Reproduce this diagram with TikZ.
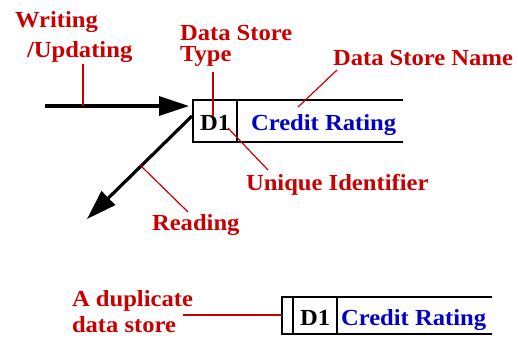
\documentclass[tikz,border=0pt]{standalone}
\usepackage{fontspec}
\newfontfamily\lblfont{Liberation Serif}[FakeStretch=1.07]
\usetikzlibrary{arrows.meta}
\definecolor{lblred}{RGB}{200,0,0}
\definecolor{nameblue}{RGB}{0,0,200}
\begin{document}
\begin{tikzpicture}[x=1pt,y=-1pt,
  every node/.style={inner sep=0pt,outer sep=0pt,font=\lblfont\fontsize{23}{26}\selectfont\bfseries},
  lbl/.style={text=lblred,anchor=base west},
  nm/.style={text=nameblue,anchor=base west},
  idtxt/.style={text=black,anchor=base west},
  storeline/.style={line width=2.6pt,black},
  lead/.style={lblred,line width=1.2pt},
  flow/.style={line width=3.2pt,black,-{Triangle[length=30pt,width=19pt]}}]
\useasboundingbox (0,0) rectangle (518,338);
% ---- top data store
\coordinate (s1nw) at (193,100);
\coordinate (s1sw) at (193,142);
\coordinate (s1dn) at (237,100);
\coordinate (s1ds) at (237,142);
\coordinate (s1ne) at (403,100);
\coordinate (s1se) at (403,142);
\draw[storeline] (s1ne) -- (s1nw) -- (s1sw) -- (s1se);
\draw[storeline] (s1dn) -- (s1ds);
\node[idtxt] (d1) at (200,130) {D1};
\node[nm] (cr1) at (251,130) {Credit Rating};
% ---- labels
\node[lbl] (wr1) at (15,27) {Writing};
\node[lbl] (wr2) at (27,57) {/Updating};
\node[lbl] (dst1) at (180,40) {Data Store};
\node[lbl] (dst2) at (180,61) {Type};
\node[lbl] (dsn) at (333,65) {Data Store Name};
\node[lbl] (uid) at (246,190) {Unique Identifier};
\node[lbl] (rd) at (152,230) {Reading};
\node[lbl] (dup1) at (72,306) {A duplicate};
\node[lbl] (dup2) at (72,332) {data store};
% ---- flows
\coordinate (w0) at (45,106);
\coordinate (w1) at (189,106);
\draw[flow] (w0) -- (w1);
\coordinate (r0) at (192,116);
\coordinate (r1) at (87,219);
\draw[flow] (r0) -- (r1);
% ---- leaders
\coordinate (lw0) at (83,64);
\coordinate (lw1) at (83,106);
\draw[lead] (lw0) -- (lw1);
\coordinate (lt0) at (213,72);
\coordinate (lt1) at (213,116);
\draw[lead] (lt0) -- (lt1);
\coordinate (ln0) at (337,70);
\coordinate (ln1) at (298,107);
\draw[lead] (ln0) -- (ln1);
\coordinate (lu0) at (228,128);
\coordinate (lu1) at (268,170);
\draw[lead] (lu0) -- (lu1);
\coordinate (lr0) at (140,165);
\coordinate (lr1) at (188,212);
\draw[lead] (lr0) -- (lr1);
% ---- duplicate data store
\coordinate (s2nw) at (282,297);
\coordinate (s2sw) at (282,334);
\coordinate (s2vn) at (293,297);
\coordinate (s2vs) at (293,334);
\coordinate (s2dn) at (337,297);
\coordinate (s2ds) at (337,334);
\coordinate (s2ne) at (492,297);
\coordinate (s2se) at (492,334);
\draw[storeline] (s2ne) -- (s2nw) -- (s2sw) -- (s2se);
\draw[storeline] (s2vn) -- (s2vs);
\draw[storeline] (s2dn) -- (s2ds);
\node[idtxt] (d2) at (300,325) {D1};
\node[nm] (cr2) at (341,325) {Credit Rating};
\coordinate (ld0) at (183,315);
\draw[lead] (ld0) -- (s2nw |- ld0);
\end{tikzpicture}
\end{document}
